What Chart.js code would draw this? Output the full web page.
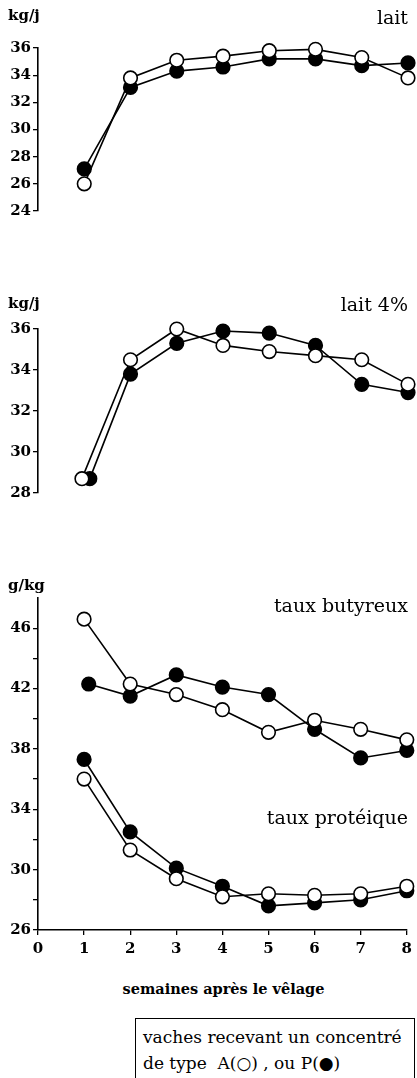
<!DOCTYPE html>
<html>
<head>
<meta charset="utf-8">
<script src="https://cdn.jsdelivr.net/npm/chart.js@4"></script>
<style>
  body { margin: 0; background: #fff; font-family: "DejaVu Serif", serif; color: #000; }
  #page { position: relative; width: 417px; height: 1078px; overflow: hidden; }
  canvas { position: absolute; left: 0; }
  .lbl { position: absolute; white-space: nowrap; line-height: 1; }
  .unit { font-size: 15px; font-weight: bold; left: 8px; }
  .ttl { font-size: 19px; right: 9px; }
  #xtitle { font-size: 14.5px; font-weight: bold; left: 0; width: 447px; text-align: center; top: 982px; }
  #legend { position: absolute; left: 135px; top: 1018px; width: 271px; height: 80px;
            border: 1px solid #000; padding: 5px 0 0 7px; font-size: 17px; line-height: 26px; }
</style>
</head>
<body>
<div id="page">
  <canvas id="c1" width="417" height="260" style="top:0"></canvas>
  <canvas id="c2" width="417" height="280" style="top:260px"></canvas>
  <canvas id="c3" width="417" height="430" style="top:540px"></canvas>

  <div class="lbl unit" style="top:8px">kg/j</div>
  <div class="lbl ttl" style="top:8px">lait</div>
  <div class="lbl unit" style="top:296px">kg/j</div>
  <div class="lbl ttl" style="top:295px">lait 4%</div>
  <div class="lbl unit" style="top:578px">g/kg</div>
  <div class="lbl ttl" style="top:596px">taux butyreux</div>
  <div class="lbl ttl" style="top:808px">taux protéique</div>
  <div class="lbl" id="xtitle">semaines après le vêlage</div>
  <div id="legend">vaches recevant un concentré<br>de type&nbsp; A(○) , ou P(●)</div>
</div>
<script>
// semaines
const weeks = [1, 2, 3, 4, 5, 6, 7, 8];
const weeksLait4A = [0.95, 2, 3, 4, 5, 6, 7, 8];
const weeksLait4P = [1.12, 2, 3, 4, 5, 6, 7, 8];
const weeksButP = [1.1, 2, 3, 4, 5, 6, 7, 8];

// lait (kg/j)
const laitA = [26.0, 33.8, 35.1, 35.4, 35.8, 35.9, 35.3, 33.8];
const laitP = [27.1, 33.1, 34.3, 34.6, 35.2, 35.2, 34.7, 34.9];
// lait 4% (kg/j)
const lait4A = [28.7, 34.5, 36.0, 35.2, 34.9, 34.7, 34.5, 33.3];
const lait4P = [28.7, 33.8, 35.3, 35.9, 35.8, 35.2, 33.3, 32.9];
// taux (g/kg)
const butA = [46.6, 42.3, 41.6, 40.6, 39.1, 39.9, 39.3, 38.6];
const butP = [42.3, 41.5, 42.9, 42.1, 41.6, 39.3, 37.4, 37.9];
const protA = [36.0, 31.3, 29.4, 28.2, 28.4, 28.3, 28.4, 28.9];
const protP = [37.3, 32.5, 30.1, 28.9, 27.6, 27.8, 28.0, 28.6];

const tickFont = { family: "DejaVu Serif", size: 15, weight: "bold" };

function pts(xs, ys) {
  return ys.map((y, i) => ({ x: xs[i], y: y }));
}

function serie(xs, ys, filled) {
  return {
    data: pts(xs, ys),
    borderColor: "#000",
    borderWidth: 1.6,
    pointRadius: 6.8,
    pointBorderWidth: 1.6,
    pointBorderColor: "#000",
    pointBackgroundColor: filled ? "#000" : "#fff",
    tension: 0,
    clip: false,
  };
}

function panel(id, datasets, yMin, yMax, step, pad, showX, labelFn) {
  return new Chart(document.getElementById(id), {
    type: "line",
    data: { datasets: datasets },
    options: {
      responsive: false,
      animation: false,
      layout: { padding: pad },
      plugins: { legend: { display: false }, tooltip: { enabled: false } },
      scales: {
        x: {
          type: "linear",
          min: 0,
          max: 8,
          display: showX,
          afterFit: (s) => { s.height = 30; },
          border: { display: true, color: "#000", width: 1.6 },
          grid: { drawOnChartArea: false, tickLength: 5, color: "#000", lineWidth: 1.3 },
          ticks: { stepSize: 1, color: "#000", font: tickFont, padding: 5 },
        },
        y: {
          min: yMin,
          max: yMax,
          afterFit: (s) => { s.width = 38; },
          border: { display: true, color: "#000", width: 1.6 },
          grid: {
            drawOnChartArea: false,
            tickLength: 5,
            color: (c) => (c.tick && c.tick.value === yMax && labelFn ? "rgba(0,0,0,0)" : "#000"),
            lineWidth: 1.3,
          },
          ticks: {
            stepSize: step,
            color: "#000",
            font: tickFont,
            padding: 2,
            callback: labelFn || ((v) => v),
          },
        },
      },
    },
  });
}

panel("c1", [serie(weeks, laitA, false), serie(weeks, laitP, true)],
  24, 36, 2, { top: 48, bottom: 19, left: 0, right: 9 }, false);

panel("c2", [serie(weeksLait4A, lait4A, false), serie(weeksLait4P, lait4P, true)],
  28, 36, 2, { top: 69, bottom: 17, left: 0, right: 9 }, false);

panel("c3", [
    serie(weeks, butA, false), serie(weeksButP, butP, true),
    serie(weeks, protA, false), serie(weeks, protP, true),
  ],
  26, 48, 2, { top: 58, bottom: 10, left: 0, right: 9 }, true,
  (v) => ((v - 26) % 4 === 0 && v < 48 ? v : ""));
</script>
</body>
</html>
